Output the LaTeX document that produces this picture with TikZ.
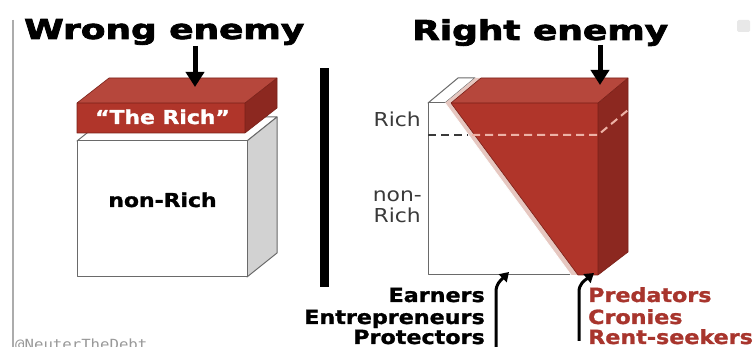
\documentclass[tikz,border=0pt]{standalone}
\usepackage{fontspec}
\setmainfont{DejaVu Sans}
\newfontfamily\heavyfont{DejaVu Sans}[BoldFeatures={FakeBold=2.5}]
\newfontfamily\semifont{DejaVu Sans}[BoldFeatures={FakeBold=1.2}]
\newfontfamily\monofont{DejaVu Sans Mono}
\usetikzlibrary{arrows.meta}
\definecolor{redF}{HTML}{B0352A}
\definecolor{redT}{HTML}{B6473C}
\definecolor{redS}{HTML}{8C2820}
\definecolor{redE}{HTML}{7A2018}
\definecolor{redL}{HTML}{A8352D}
\definecolor{pinkS}{HTML}{E6C7C0}
\definecolor{dashP}{HTML}{EDB2A6}
\definecolor{sideG}{HTML}{D2D2D2}
\definecolor{edgeG}{HTML}{6A6A6A}
\definecolor{labG}{HTML}{3A3A3A}
\newcommand{\ttl}[1]{\scalebox{1.31}[1]{#1}}
\newcommand{\bdy}[1]{\scalebox{1.14}[1]{#1}}
\begin{document}
\begin{tikzpicture}[x=1pt,y=-1pt,
  titletext/.style={inner sep=0pt,font=\heavyfont\fontsize{27.4}{30}\selectfont\bfseries},
  boxtext/.style={inner sep=0pt,font=\semifont\fontsize{19.2}{22}\selectfont\bfseries},
  sidetext/.style={inner sep=0pt,font=\fontsize{19.2}{22}\selectfont,text=labG},
  bottext/.style={inner sep=0pt,font=\semifont\fontsize{19.5}{22}\selectfont\bfseries},
  bigarrow/.style={line width=5pt,-{Triangle[width=18pt,length=15pt]}},
  curvarrow/.style={line width=3pt,-{Triangle[width=11pt,length=9pt]}},
  whiteface/.style={fill=white,draw=edgeG,line width=1pt,line join=round},
  redface/.style={draw=redE,line width=0.6pt,line join=round}
]
\useasboundingbox (0,0) rectangle (753,347);
\clip (0,0) rectangle (753,347);
\fill[white] (0,0) rectangle (753,347);

% left margin line
\draw[gray!65,line width=1.5pt] (13,20) -- (13,347);

% ---------- Left panel ----------
\node[titletext,anchor=base west] (wrong) at (24,39) {\ttl{Wrong enemy}};

% white box (non-Rich)
\draw[whiteface] (77,141) -- (107,117) -- (277,117) -- (247,141) -- cycle;
\draw[whiteface,fill=sideG] (247,141) -- (277,117) -- (277,253) -- (247,277) -- cycle;
\draw[whiteface] (77,141) rectangle (247,277);

% red slab (The Rich)
\fill[redT] (77,103) -- (109,78) -- (277,78) -- (245,103) -- cycle;
\fill[redS] (245,103) -- (277,78) -- (277,108) -- (245,133) -- cycle;
\fill[redF] (77,103) rectangle (245,133);
\draw[redface] (77,103) -- (109,78) -- (277,78) -- (277,108) -- (245,133) -- (77,133) -- cycle;
\draw[redface] (77,103) -- (245,103) -- (277,78) (245,103) -- (245,133);

\node[boxtext,text=white,anchor=base] (therich) at (162.5,124) {\bdy{“The Rich”}};
\node[boxtext,anchor=base] (nonrich) at (162.5,207) {\bdy{non-Rich}};

\coordinate (wa1) at (195,46);
\coordinate (wa2) at (195,87);
\draw[bigarrow] (wa1) -- (wa2);

% divider bar
\fill[black] (320,68) rectangle (329,287);

% ---------- Right panel ----------
\node[titletext,anchor=base west] (right) at (412,40) {\ttl{Right enemy}};

% top faces
\draw[whiteface] (428,103) -- (458,78) -- (475,78) -- (445,103) -- cycle;
\fill[pinkS] (445,103) -- (475,78) -- (481,78) -- (451,103) -- cycle;
\fill[redT] (451,103) -- (481,78) -- (628,78) -- (598,103) -- cycle;
% front faces
\draw[whiteface] (445,103) -- (428,103) -- (428,275) -- (571,275);
\fill[pinkS] (445,103) -- (451,103) -- (578,275) -- (571,275) -- cycle;
\fill[redF] (451,103) -- (598,103) -- (598,275) -- (578,275) -- cycle;
% side face
\fill[redS] (598,103) -- (628,78) -- (628,252) -- (598,275) -- cycle;
\draw[redface] (451,103) -- (481,78) -- (628,78) -- (628,252) -- (598,275) -- (578,275) -- cycle;
\draw[redface] (451,103) -- (598,103) -- (628,78) (598,103) -- (598,275);
\draw[white,line width=0.8pt] (445,103) -- (571,275);

% dashed Rich / non-Rich divider
\draw[labG,line width=2pt,dash pattern=on 8pt off 5pt] (428,135) -- (468,135);
\draw[dashP,line width=2pt,dash pattern=on 8pt off 5pt] (472,135) -- (598,135) -- (628,110);

\node[sidetext,anchor=base east] (rich) at (421,127) {\bdy{Rich}};
\node[sidetext,anchor=base east] (non) at (422,202) {\bdy{non-}};
\node[sidetext,anchor=base east] (rich2) at (421,223) {\bdy{Rich}};

\coordinate (ra1) at (600,45);
\coordinate (ra2) at (600,85);
\draw[bigarrow] (ra1) -- (ra2);

% bottom labels
\node[bottext,anchor=base east] (earn) at (485,302) {\bdy{Earners}};
\node[bottext,anchor=base east] (entr) at (485,324) {\bdy{Entrepreneurs}};
\node[bottext,anchor=base east] (prot) at (485,344) {\bdy{Protectors}};
\node[bottext,text=redL,anchor=base west] (pred) at (588,302) {\bdy{Predators}};
\node[bottext,text=redL,anchor=base west] (cron) at (588,324) {\bdy{Cronies}};
\node[bottext,text=redL,anchor=base west] (rent) at (588,344) {\bdy{Rent-seekers}};

\coordinate (ca1) at (496,349);
\coordinate (ca2) at (509,272);
\draw[curvarrow] (ca1) -- (496,292) .. controls (496,284) and (500,281) .. (ca2);
\coordinate (cb1) at (579,341);
\coordinate (cb2) at (594,273);
\draw[curvarrow] (cb1) -- (579,292) .. controls (579,284) and (584,281) .. (cb2);

% watermark
\node[inner sep=0pt,anchor=base west,text=gray!80,font=\monofont\fontsize{14}{16}\selectfont] (handle) at (15,350) {\scalebox{1.12}[1]{@NeuterTheDebt}};

% faint icon top right
\fill[gray!18,rounded corners=1.5pt] (737,20) rectangle (750,32);
\end{tikzpicture}
\end{document}
